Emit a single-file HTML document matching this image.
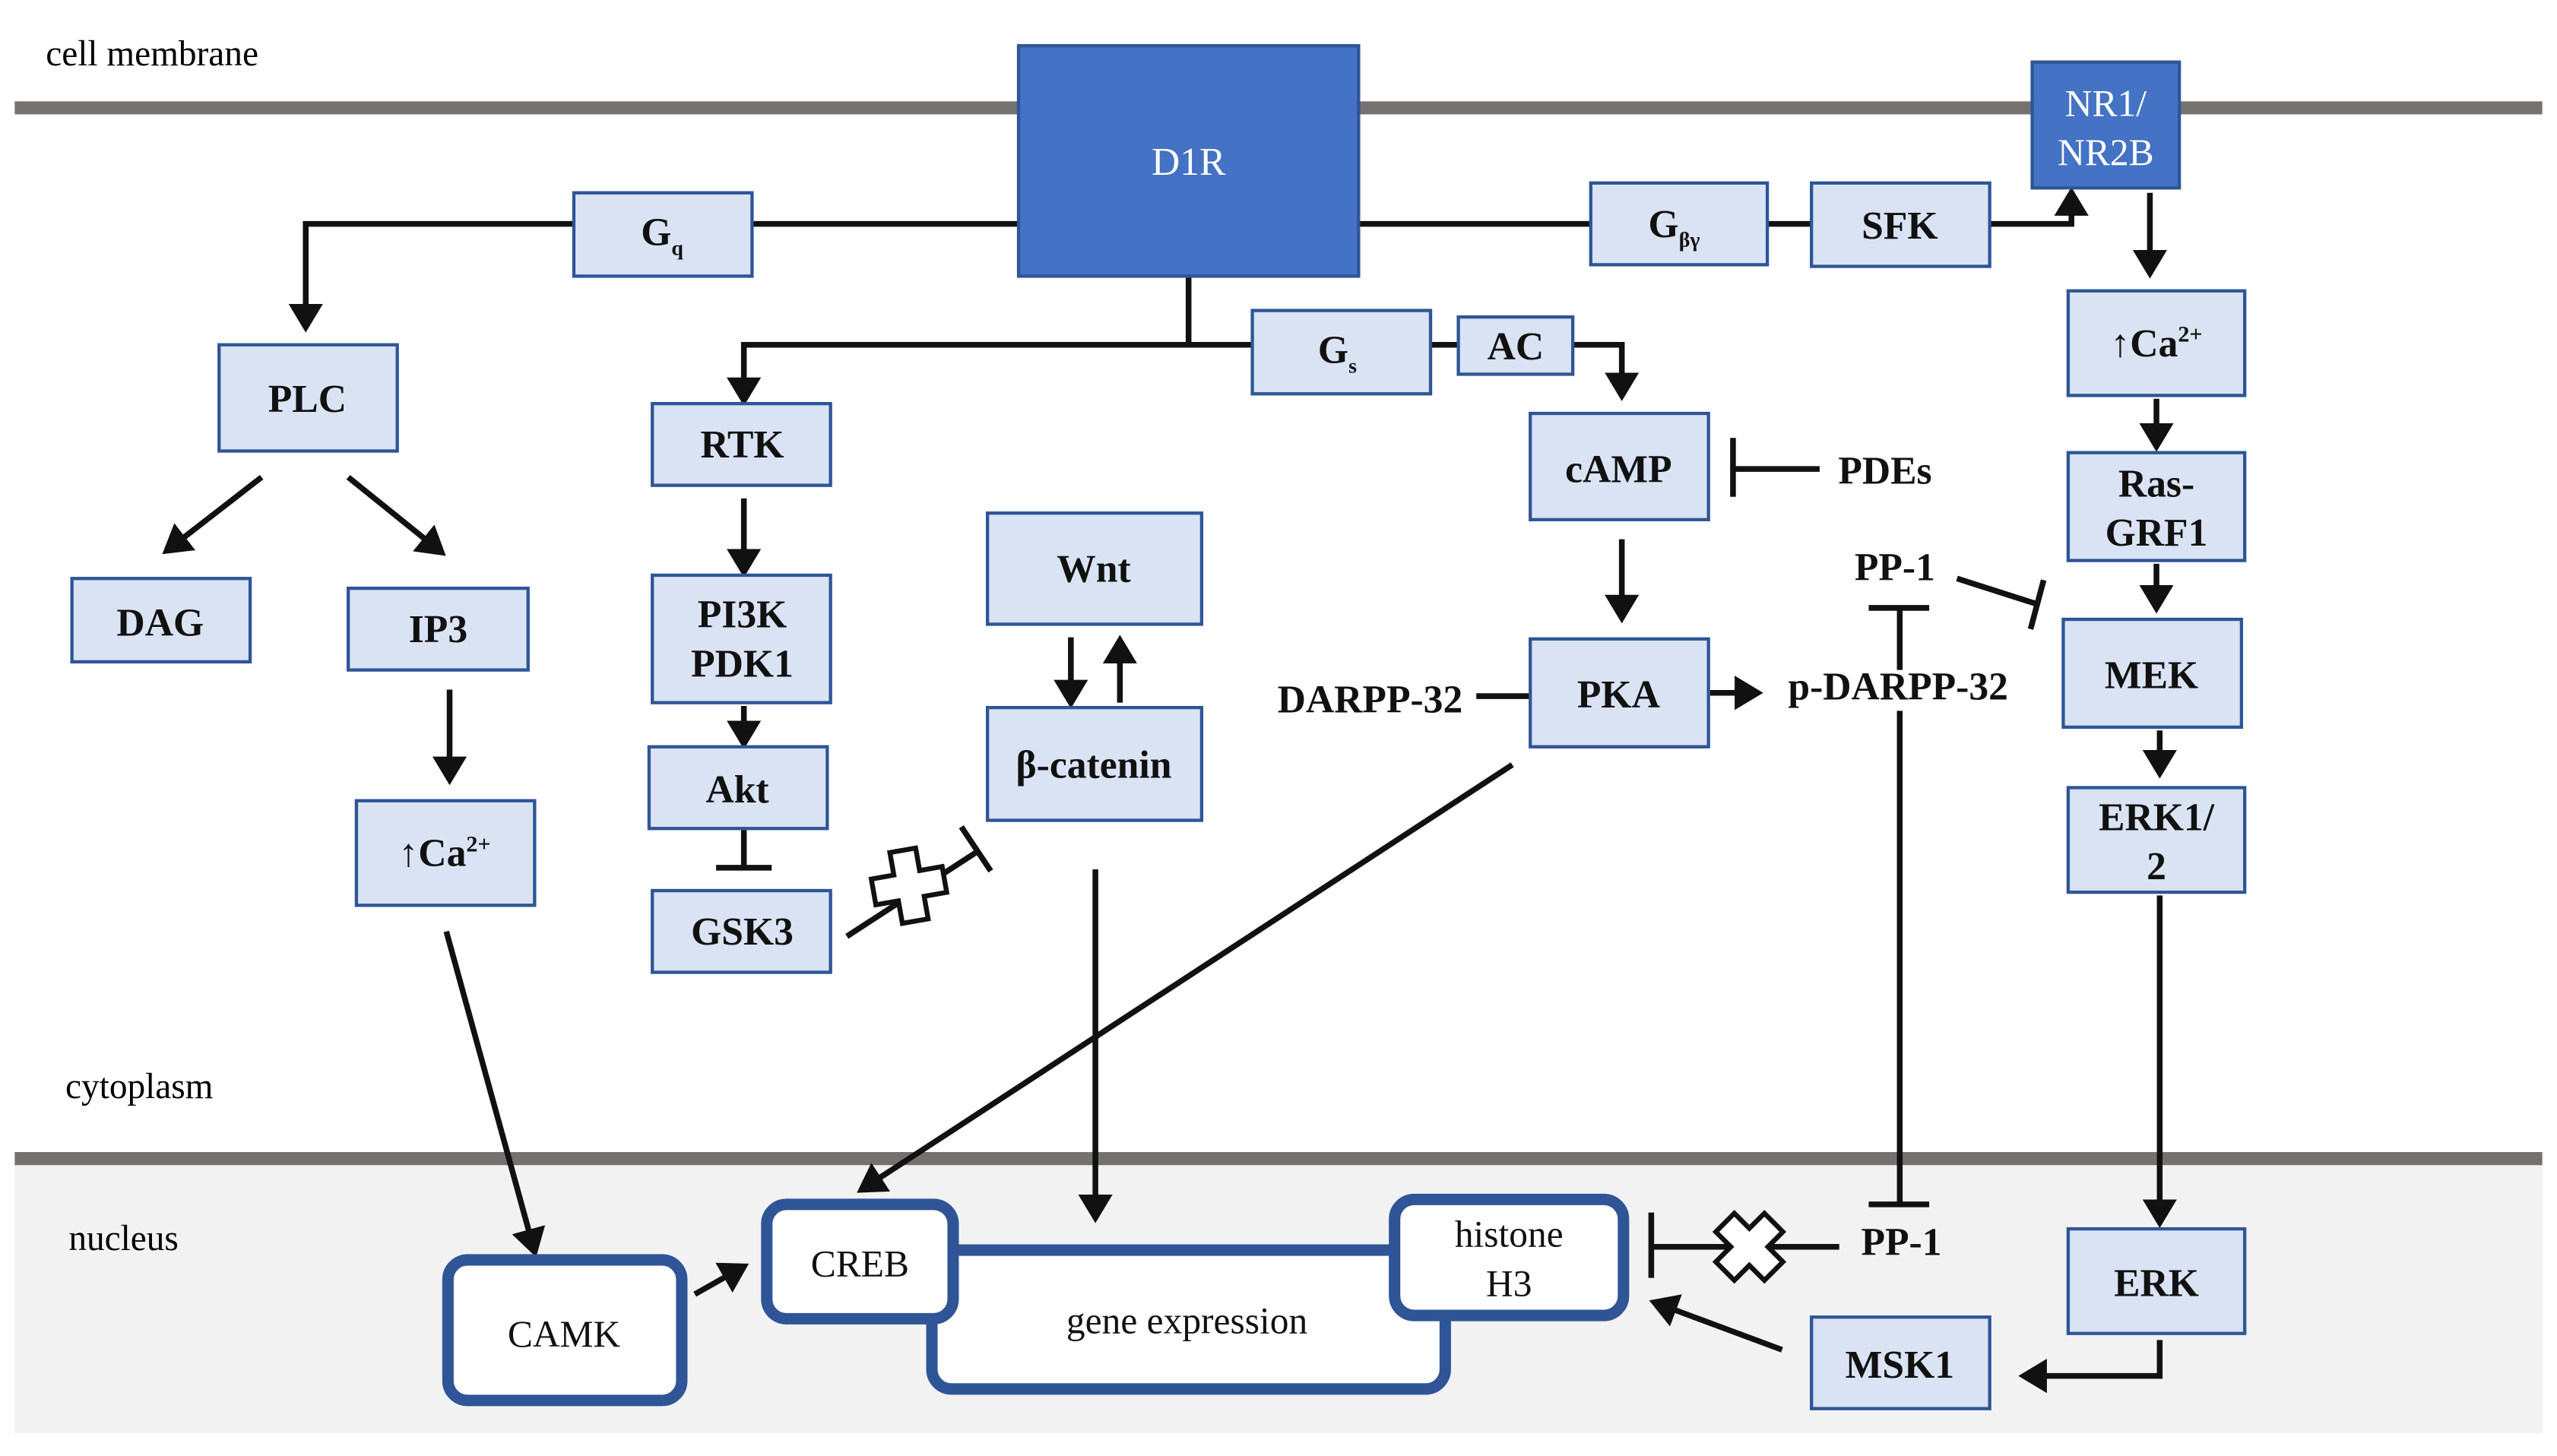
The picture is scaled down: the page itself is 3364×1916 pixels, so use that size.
<!DOCTYPE html>
<html><head><meta charset="utf-8"><style>
html,body{margin:0;padding:0;background:#fff}
svg{display:block}
text{font-family:"Liberation Serif",serif}
.b{fill:#dae3f3;stroke:#2f5597;stroke-width:2}
.t{font-weight:bold;font-size:24px;fill:#111;text-anchor:middle}
.l{stroke:#111;stroke-width:3.5;fill:none}
.n{fill:#fff;stroke:#2f5597;stroke-width:7}
.nt{font-size:23px;fill:#111;text-anchor:middle}
</style></head><body>
<svg width="3364" height="1916" viewBox="0 0 1564 891" preserveAspectRatio="none" xmlns="http://www.w3.org/2000/svg">
<defs><marker id="a" markerWidth="6" markerHeight="6" refX="4" refY="3" orient="auto" markerUnits="strokeWidth"><path d="M0,0 L5,3 L0,6 z" fill="#111"/></marker></defs>
<rect x="9" y="709" width="1546" height="168" fill="#f2f2f2"/>
<line x1="9" y1="66" x2="1555" y2="66" stroke="#767171" stroke-width="8"/>
<line x1="9" y1="709" x2="1555" y2="709" stroke="#767171" stroke-width="8"/>
<text x="28" y="40" font-size="22">cell membrane</text>
<text x="40" y="672" font-size="22">cytoplasm</text>
<text x="42" y="765" font-size="22">nucleus</text>

<!-- lines -->
<path class="l" d="M623,137 H460 M351,137 H187 V200" marker-end="url(#a)"/>
<path class="l" d="M831,137 H973 M1081,137 H1108 M1217,137 H1267 V118" marker-end="url(#a)"/>
<path class="l" d="M1315,118 V167" marker-end="url(#a)"/>
<path class="l" d="M727,169 V211 M766,211 H455 V245" marker-end="url(#a)"/>
<path class="l" d="M875,211 H892 M962,211 H992 V242" marker-end="url(#a)"/>
<path class="l" d="M160,292 L102,337" marker-end="url(#a)"/>
<path class="l" d="M213,292 L270,338" marker-end="url(#a)"/>
<path class="l" d="M275,422 V477" marker-end="url(#a)"/>
<path class="l" d="M273,570 L327,766" marker-end="url(#a)"/>
<path class="l" d="M455,305 V350" marker-end="url(#a)"/>
<path class="l" d="M455,432 V455" marker-end="url(#a)"/>
<path class="l" d="M455,508 V531 M438,531 H472"/>
<path class="l" d="M655,390 V430" marker-end="url(#a)"/>
<path class="l" d="M685,430 V392" marker-end="url(#a)"/>
<path class="l" d="M518,573 L598,521 M588,506 L606,533"/>
<path d="M548,520 h16 v14 h14 v16 h-14 v14 h-16 v-14 h-14 v-16 h14 z" fill="#fff" stroke="#111" stroke-width="3" transform="rotate(-10 556 542)"/>
<path class="l" d="M670,532 V745" marker-end="url(#a)"/>
<path class="l" d="M992,330 V378" marker-end="url(#a)"/>
<path class="l" d="M1113,287 H1060 M1060,268 V304"/>
<path class="l" d="M925,468 L527,728" marker-end="url(#a)"/>
<path class="l" d="M903,426 H936"/>
<path class="l" d="M1046,424 H1075" marker-end="url(#a)"/>
<path class="l" d="M1162,410 V372 M1143,372 H1180"/>
<path class="l" d="M1197,354 L1247,370 M1250,355 L1242,385"/>
<path class="l" d="M1162,435 V737 M1143,737 H1180"/>
<path class="l" d="M1125,763 H1010 M1010,742 V782"/>
<path d="M1062,742 h16 v13 h13 v16 h-13 v13 h-16 v-13 h-13 v-16 h13 z" fill="#fff" stroke="#111" stroke-width="3" transform="rotate(45 1070 763)"/>
<path class="l" d="M1090,826 L1012,797" marker-end="url(#a)"/>
<path class="l" d="M1319,244 V273" marker-end="url(#a)"/>
<path class="l" d="M1319,345 V372" marker-end="url(#a)"/>
<path class="l" d="M1321,447 V473" marker-end="url(#a)"/>
<path class="l" d="M1321,548 V748" marker-end="url(#a)"/>
<path class="l" d="M1321,820 V842 H1238" marker-end="url(#a)"/>
<path class="l" d="M425,792 L455,775" marker-end="url(#a)"/>

<!-- dark boxes -->
<rect x="623" y="28" width="208" height="141" fill="#4472c4" stroke="#2f5597" stroke-width="2"/>
<text x="727" y="107" font-size="24" fill="#fff" text-anchor="middle">D1R</text>
<rect x="1243" y="38" width="90" height="77" fill="#4472c4" stroke="#2f5597" stroke-width="2"/>
<text x="1288" y="71" font-size="23" fill="#fff" text-anchor="middle">NR1/</text>
<text x="1288" y="101" font-size="23" fill="#fff" text-anchor="middle">NR2B</text>

<!-- light boxes -->
<rect class="b" x="351" y="118" width="109" height="51"/><text class="t" x="405" y="150">G<tspan font-size="13" dy="6">q</tspan></text>
<rect class="b" x="973" y="112" width="108" height="50"/><text class="t" x="1024" y="145">G<tspan font-size="13" dy="6">βγ</tspan></text>
<rect class="b" x="1108" y="112" width="109" height="51"/><text class="t" x="1162" y="146">SFK</text>
<rect class="b" x="134" y="211" width="109" height="65"/><text class="t" x="188" y="252">PLC</text>
<rect class="b" x="399" y="247" width="109" height="50"/><text class="t" x="454" y="280">RTK</text>
<rect class="b" x="766" y="190" width="109" height="51"/><text class="t" x="818" y="222">G<tspan font-size="13" dy="6">s</tspan></text>
<rect class="b" x="892" y="194" width="70" height="35"/><text class="t" x="927" y="220">AC</text>
<rect class="b" x="936" y="253" width="109" height="65"/><text class="t" x="990" y="295">cAMP</text>
<text class="t" x="1153" y="296">PDEs</text>
<rect class="b" x="1265" y="178" width="108" height="64"/><text class="t" x="1319" y="218">↑Ca<tspan font-size="14" dy="-9">2+</tspan></text>
<rect class="b" x="1265" y="277" width="108" height="66"/><text class="t" x="1319" y="304">Ras-</text><text class="t" x="1319" y="334">GRF1</text>
<rect class="b" x="44" y="354" width="109" height="51"/><text class="t" x="98" y="389">DAG</text>
<rect class="b" x="213" y="360" width="110" height="50"/><text class="t" x="268" y="393">IP3</text>
<rect class="b" x="604" y="314" width="131" height="68"/><text class="t" x="669" y="356">Wnt</text>
<rect class="b" x="399" y="352" width="109" height="78"/><text class="t" x="454" y="384">PI3K</text><text class="t" x="454" y="414">PDK1</text>
<rect class="b" x="604" y="433" width="131" height="69"/><text class="t" x="669" y="476">β-catenin</text>
<rect class="b" x="936" y="391" width="109" height="66"/><text class="t" x="990" y="433">PKA</text>
<text class="t" x="838" y="436">DARPP-32</text>
<text class="t" x="1161" y="428">p-DARPP-32</text>
<text class="t" x="1159" y="355">PP-1</text>
<rect class="b" x="1262" y="379" width="109" height="66"/><text class="t" x="1316" y="421">MEK</text>
<rect class="b" x="397" y="457" width="109" height="50"/><text class="t" x="451" y="491">Akt</text>
<rect class="b" x="218" y="490" width="109" height="64"/><text class="t" x="272" y="530">↑Ca<tspan font-size="14" dy="-9">2+</tspan></text>
<rect class="b" x="1265" y="482" width="108" height="64"/><text class="t" x="1319" y="508">ERK1/</text><text class="t" x="1319" y="538">2</text>
<rect class="b" x="399" y="545" width="109" height="50"/><text class="t" x="454" y="578">GSK3</text>
<rect class="b" x="1265" y="752" width="108" height="64"/><text class="t" x="1319" y="793">ERK</text>
<rect class="b" x="1108" y="806" width="109" height="56"/><text class="t" x="1162" y="843">MSK1</text>
<text class="t" x="1163" y="768">PP-1</text>

<!-- nucleus -->
<rect class="n" x="274" y="771" width="143" height="86" rx="12"/><text class="nt" x="345" y="824">CAMK</text>
<rect class="n" x="570" y="765" width="314" height="85" rx="12"/><text class="nt" x="726" y="816">gene expression</text>
<rect class="n" x="469" y="737" width="114" height="70" rx="12"/><text class="nt" x="526" y="781">CREB</text>
<rect class="n" x="853" y="734" width="140" height="71" rx="12"/><text class="nt" x="923" y="763">histone</text><text class="nt" x="923" y="793">H3</text>
</svg>
</body></html>
